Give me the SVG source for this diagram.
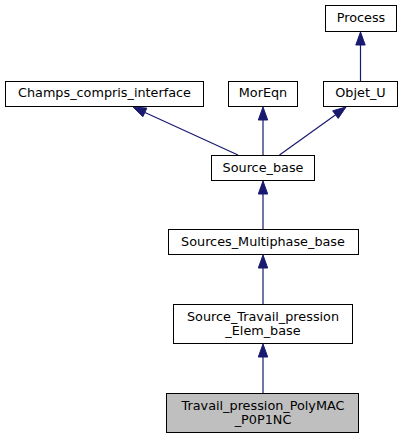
<svg xmlns="http://www.w3.org/2000/svg" width="403" height="440" viewBox="0 0 403 440">
<defs>
<style>
.box{fill:#ffffff;stroke:#000000;stroke-width:1}
.cur{fill:#bfbfbf;stroke:#000000;stroke-width:1}
.lbl{font-family:"DejaVu Sans",sans-serif;font-size:12.8px;fill:#000000;text-anchor:middle}
.edge{stroke:#191970;stroke-width:1.2;fill:none}
.head{fill:#191970;stroke:#191970;stroke-width:1}
</style>
</defs>
<rect x="0" y="0" width="403" height="440" fill="#ffffff"/>
<g id="edges">
<line class="edge" x1="360.5" y1="81" x2="360.5" y2="44"/>
<polygon class="head" points="355.8,45 360.5,32 365.2,45"/>
<line class="edge" x1="238" y1="155" x2="145" y2="112.5"/>
<polygon class="head" points="146.8,108.1 133,107 142.9,116.7"/>
<line class="edge" x1="263" y1="155" x2="263" y2="119"/>
<polygon class="head" points="258.3,120 263,107 267.7,120"/>
<line class="edge" x1="279.5" y1="155" x2="336" y2="114.5"/>
<polygon class="head" points="338.2,118.4 346,107 332.7,110.8"/>
<line class="edge" x1="263" y1="229" x2="263" y2="193"/>
<polygon class="head" points="258.3,194 263,181 267.7,194"/>
<line class="edge" x1="263" y1="304" x2="263" y2="267"/>
<polygon class="head" points="258.3,268 263,255 267.7,268"/>
<line class="edge" x1="263" y1="393" x2="263" y2="356"/>
<polygon class="head" points="258.3,357 263,344 267.7,357"/>
</g>
<g id="Process">
<rect class="box" x="325.5" y="5.5" width="71" height="26"/>
<text class="lbl" x="361" y="22">Process</text>
</g>
<g id="Champs_compris_interface">
<rect class="box" x="5.5" y="81.5" width="198" height="25"/>
<text class="lbl" x="104.5" y="97">Champs_compris_interface</text>
</g>
<g id="MorEqn">
<rect class="box" x="228.5" y="81.5" width="69" height="25"/>
<text class="lbl" x="263" y="97">MorEqn</text>
</g>
<g id="Objet_U">
<rect class="box" x="323.5" y="81.5" width="74" height="25"/>
<text class="lbl" x="360.5" y="97">Objet_U</text>
</g>
<g id="Source_base">
<rect class="box" x="211.5" y="155.5" width="103" height="25"/>
<text class="lbl" x="263" y="171.5">Source_base</text>
</g>
<g id="Sources_Multiphase_base">
<rect class="box" x="168.5" y="229.5" width="190" height="25"/>
<text class="lbl" x="263" y="246">Sources_Multiphase_base</text>
</g>
<g id="Source_Travail_pression_Elem_base">
<rect class="box" x="173.5" y="304.5" width="179" height="39"/>
<text class="lbl" x="263" y="321">Source_Travail_pression</text>
<text class="lbl" x="263" y="334.5">_Elem_base</text>
</g>
<g id="Travail_pression_PolyMAC_P0P1NC">
<rect class="cur" x="166.5" y="393.5" width="192" height="39"/>
<text class="lbl" x="263" y="410">Travail_pression_PolyMAC</text>
<text class="lbl" x="263" y="423.5">_P0P1NC</text>
</g>
</svg>
